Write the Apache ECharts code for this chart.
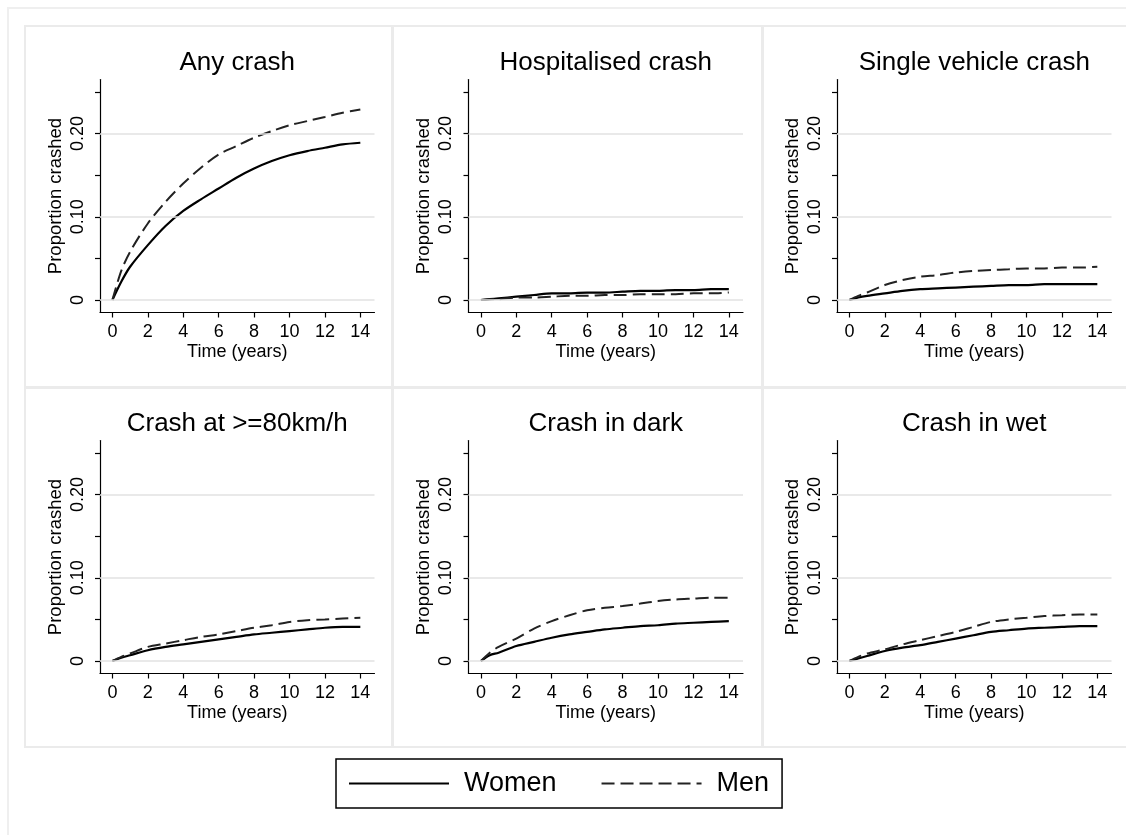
<!DOCTYPE html>
<html>
<head>
<meta charset="utf-8">
<script src="https://cdn.jsdelivr.net/npm/echarts@6/dist/echarts.min.js"></script>
<style>
  html, body { margin: 0; padding: 0; background: #fff; }
  #chart { width: 1126px; height: 835px; }
</style>
</head>
<body>
<div id="chart"></div>
<script>
// time points (years) shared by every curve
const years = [0, 0.5, 1, 2, 3, 4, 5, 6, 7, 8, 9, 10, 11, 12, 13, 14];

const panelTitles = ['Any crash', 'Hospitalised crash', 'Single vehicle crash',
                     'Crash at >=80km/h', 'Crash in dark', 'Crash in wet'];

const anyWomen      = [0, 0.022, 0.040, 0.066, 0.089, 0.107, 0.121, 0.134, 0.147, 0.158, 0.167, 0.174, 0.179, 0.183, 0.187, 0.189];
const anyMen        = [0, 0.035, 0.058, 0.092, 0.118, 0.140, 0.159, 0.175, 0.185, 0.195, 0.203, 0.210, 0.215, 0.220, 0.225, 0.229];
const hospWomen     = [0, 0.001, 0.002, 0.004, 0.006, 0.008, 0.008, 0.009, 0.009, 0.010, 0.011, 0.011, 0.012, 0.012, 0.013, 0.013];
const hospMen       = [0, 0.001, 0.001, 0.003, 0.003, 0.004, 0.005, 0.005, 0.006, 0.006, 0.007, 0.007, 0.007, 0.008, 0.008, 0.009];
const singleWomen   = [0, 0.003, 0.005, 0.008, 0.011, 0.013, 0.014, 0.015, 0.016, 0.017, 0.018, 0.018, 0.019, 0.019, 0.019, 0.019];
const singleMen     = [0, 0.005, 0.009, 0.018, 0.024, 0.028, 0.030, 0.033, 0.035, 0.036, 0.037, 0.038, 0.038, 0.039, 0.039, 0.040];
const speedWomen    = [0, 0.004, 0.007, 0.013, 0.017, 0.020, 0.023, 0.026, 0.029, 0.032, 0.034, 0.036, 0.038, 0.040, 0.041, 0.041];
const speedMen      = [0, 0.005, 0.009, 0.017, 0.021, 0.025, 0.029, 0.032, 0.036, 0.040, 0.043, 0.047, 0.049, 0.050, 0.051, 0.052];
const darkWomen     = [0, 0.007, 0.010, 0.018, 0.023, 0.028, 0.032, 0.035, 0.038, 0.040, 0.042, 0.043, 0.045, 0.046, 0.047, 0.048];
const darkMen       = [0, 0.010, 0.017, 0.027, 0.039, 0.048, 0.055, 0.061, 0.064, 0.066, 0.069, 0.072, 0.074, 0.075, 0.076, 0.076];
const wetWomen      = [0, 0.003, 0.006, 0.012, 0.016, 0.019, 0.023, 0.027, 0.031, 0.035, 0.037, 0.039, 0.040, 0.041, 0.042, 0.042];
const wetMen        = [0, 0.005, 0.009, 0.014, 0.020, 0.025, 0.030, 0.035, 0.041, 0.047, 0.050, 0.052, 0.054, 0.055, 0.056, 0.056];

const womenSets = [anyWomen, hospWomen, singleWomen, speedWomen, darkWomen, wetWomen];
const menSets   = [anyMen, hospMen, singleMen, speedMen, darkMen, wetMen];

// axis ticks / labels
const xTicks = [0, 2, 4, 6, 8, 10, 12, 14];
const yTicks = [0, 0.05, 0.10, 0.15, 0.20, 0.25];
const yLabels = [0, 0.10, 0.20];
const gridValues = [0, 0.10, 0.20];

const FONT = '"Liberation Sans", Arial, sans-serif';

// layout
const colLeft = [100, 468.5, 837];
const rowTop = [79.5, 440.5];
const plotW = 274.5;
const plotH = 233;

const grids = [], xAxes = [], yAxes = [], titles = [], series = [];

function pairs(vals) {
    return years.map((t, i) => [t, vals[i]]);
}

for (let i = 0; i < 6; i++) {
    let c = i % 3;
    let r = Math.floor(i / 3);
    grids.push({ left: colLeft[c], top: rowTop[r], width: plotW, height: plotH });

    titles.push({
        text: panelTitles[i],
        left: colLeft[c] + plotW / 2,
        top: rowTop[r] - 30,
        padding: 0,
        textAlign: 'center',
        textStyle: { fontFamily: FONT, fontSize: 26, fontWeight: 'normal', color: '#000' }
    });

    xAxes.push({
        gridIndex: i,
        type: 'value',
        min: -0.7,
        max: 14.8,
        name: 'Time (years)',
        nameLocation: 'middle',
        nameGap: 31,
        nameTextStyle: { fontFamily: FONT, fontSize: 18, color: '#000' },
        axisLine: { show: true, onZero: false, lineStyle: { color: '#000', width: 1.2 } },
        axisTick: { show: true, length: 5, customValues: xTicks, lineStyle: { color: '#000', width: 1.2 } },
        axisLabel: { customValues: xTicks, fontFamily: FONT, fontSize: 18, color: '#000', margin: 11 },
        splitLine: { show: false }
    });

    yAxes.push({
        gridIndex: i,
        type: 'value',
        min: -0.015,
        max: 0.265,
        name: 'Proportion crashed',
        nameLocation: 'middle',
        nameGap: 35,
        nameTextStyle: { fontFamily: FONT, fontSize: 18.5, color: '#000' },
        axisLine: { show: true, onZero: false, lineStyle: { color: '#000', width: 1.2 } },
        axisTick: { show: true, length: 5, customValues: yTicks, lineStyle: { color: '#000', width: 1.2 } },
        axisLabel: {
            customValues: yLabels,
            rotate: 90,
            margin: 13,
            fontFamily: FONT, fontSize: 18, color: '#000',
            formatter: v => (v === 0 ? '0' : v.toFixed(2))
        },
        splitLine: { show: false }
    });

    // light grid lines at the labelled values
    series.push({
        type: 'line',
        xAxisIndex: i,
        yAxisIndex: i,
        data: [],
        silent: true,
        markLine: {
            silent: true,
            symbol: ['none', 'none'],
            label: { show: false },
            lineStyle: { color: '#e2e2e2', width: 1.5, type: 'solid' },
            emphasis: { disabled: true },
            data: gridValues.map(v => ({ yAxis: v }))
        }
    });

    series.push({
        name: 'Women',
        type: 'line',
        xAxisIndex: i,
        yAxisIndex: i,
        data: pairs(womenSets[i]),
        showSymbol: false,
        symbol: 'none',
        smooth: 0.3,
        lineStyle: { color: '#000', width: 2.2, type: 'solid' },
        itemStyle: { color: '#000' }
    });

    series.push({
        name: 'Men',
        type: 'line',
        xAxisIndex: i,
        yAxisIndex: i,
        data: pairs(menSets[i]),
        showSymbol: false,
        symbol: 'none',
        smooth: 0.3,
        lineStyle: { color: '#222', width: 2, type: [13, 6] },
        itemStyle: { color: '#222' }
    });
}

// panel outlines
const boxX = [25, 393, 763];
const boxW = [367, 369, 400];
const boxY = [26, 387];
const boxH = [362, 360];
let graphics = [{
    type: 'rect', silent: true, z: -10,
    shape: { x: 8, y: 8, width: 1140, height: 850 },
    style: { fill: 'none', stroke: '#efefef', lineWidth: 2 }
}];
for (let r = 0; r < 2; r++) {
    for (let c = 0; c < 3; c++) {
        graphics.push({
            type: 'rect', silent: true, z: -10,
            shape: { x: boxX[c], y: boxY[r], width: boxW[c], height: boxH[r] },
            style: { fill: 'none', stroke: '#ebebeb', lineWidth: 2 }
        });
    }
}

let chart = echarts.init(document.getElementById('chart'), null, { renderer: 'canvas' });

let option = {
    backgroundColor: '#fff',
    animation: false,
    title: titles,
    grid: grids,
    xAxis: xAxes,
    yAxis: yAxes,
    graphic: graphics,
    legend: {
        data: ['Women', 'Men'],
        left: 336,
        top: 759,
        itemWidth: 100,
        itemHeight: 14,
        itemGap: 44,
        padding: [11, 13, 11, 12],
        borderColor: '#000',
        borderWidth: 1.5,
        selectedMode: false,
        itemStyle: { opacity: 0 },
        textStyle: { fontFamily: FONT, fontSize: 27, color: '#000', padding: [0, 0, 0, 10] }
    },
    series: series
};

chart.setOption(option);
</script>
</body>
</html>
